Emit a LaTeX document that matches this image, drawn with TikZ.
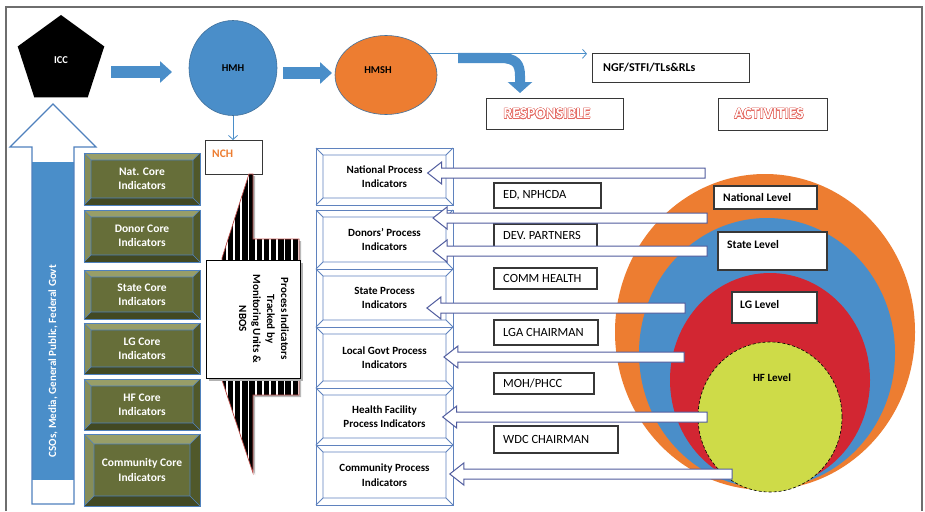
\documentclass[tikz,border=0pt]{standalone}
\usepackage{fontspec}
\setmainfont{Carlito}
\usepackage{contour}
\usetikzlibrary{shapes.geometric,arrows.meta,calc}

\definecolor{frameg}{RGB}{110,110,110}
\definecolor{offblue}{RGB}{74,142,201}
\definecolor{offblueline}{RGB}{65,113,156}
\definecolor{offorange}{RGB}{237,125,49}
\definecolor{offred}{RGB}{210,38,50}
\definecolor{offlime}{RGB}{206,219,72}
\definecolor{olivemid}{RGB}{102,110,57}
\definecolor{olivelight}{RGB}{152,158,104}
\definecolor{olivelight2}{RGB}{134,141,88}
\definecolor{olivedark}{RGB}{66,73,35}
\definecolor{olivedark2}{RGB}{80,88,42}
\definecolor{bevelblue}{RGB}{79,129,189}
\definecolor{procblue}{RGB}{95,130,190}
\definecolor{hollowblue}{RGB}{80,92,158}
\definecolor{labelgray}{RGB}{55,55,55}
\definecolor{salmon}{RGB}{228,104,96}
\definecolor{stripered}{RGB}{192,80,77}

\contourlength{0.45pt}

% olive bevelled indicator box: name, x1, y1, x2, y2, inset, text
\newcommand\coreboxat[7]{%
  \fill[olivelight] (#2,#3) -- (#4,#3) -- (#4-#6,#3+#6) -- (#2+#6,#3+#6) -- cycle;
  \fill[olivelight2] (#2,#3) -- (#2+#6,#3+#6) -- (#2+#6,#5-#6) -- (#2,#5) -- cycle;
  \fill[olivedark2] (#4,#3) -- (#4,#5) -- (#4-#6,#5-#6) -- (#4-#6,#3+#6) -- cycle;
  \fill[olivedark] (#2,#5) -- (#4,#5) -- (#4-#6,#5-#6) -- (#2+#6,#5-#6) -- cycle;
  \fill[olivemid] (#2+#6,#3+#6) rectangle (#4-#6,#5-#6);
  \draw[bevelblue, line width=0.9pt] (#2,#3) rectangle (#4,#5);
  \draw[bevelblue, line width=0.6pt] (#2+#6,#3+#6) rectangle (#4-#6,#5-#6)
    (#2,#3) -- (#2+#6,#3+#6) (#4,#3) -- (#4-#6,#3+#6)
    (#2,#5) -- (#2+#6,#5-#6) (#4,#5) -- (#4-#6,#5-#6);
  \node[coretext] (#1) at ({(#2+#4)/2},{(#3+#5)/2}) {#7};
}

% white bevelled process box: name, x1, y1, x2, y2, text
\newcommand\procboxat[6]{%
  \fill[white] (#2,#3) rectangle (#4,#5);
  \draw[procline] (#2,#3) rectangle (#4,#5);
  \draw[procline] (#2+7,#3+7) rectangle (#4-7,#5-7)
    (#2,#3) -- (#2+7,#3+7) (#4,#3) -- (#4-7,#3+7)
    (#2,#5) -- (#2+7,#5-7) (#4,#5) -- (#4-7,#5-7);
  \node[proctext] (#1) at ({(#2+#4)/2},{(#3+#5)/2}) {#6};
}

% framed label: name, x1, y1, x2, y2, text
\newcommand\lblboxat[6]{%
  \path[lblframe] (#2,#3) rectangle (#4,#5);
  \node[lbltext] (#1) at (#2+9,{(#3+#5)/2}) {#6};
}

\begin{document}
\begin{tikzpicture}[x=1pt,y=-1pt,
  font=\fontsize{11.5}{14}\selectfont\bfseries,
  blockarrow/.style={line width=12pt, draw=offblue, -{Triangle[length=12pt,width=21pt]}},
  thinarrow/.style={draw=offblue, line width=0.8pt, -{Straight Barb[length=4pt,width=9pt]}},
  coretext/.style={text=white, align=center, inner sep=0pt, font=\fontsize{11.5}{14}\selectfont\bfseries},
  proctext/.style={align=center, inner sep=0pt, font=\fontsize{11}{14.5}\selectfont\bfseries},
  procline/.style={draw=procblue, line width=0.9pt},
  lblframe/.style={draw=labelgray, line width=1.1pt, fill=white},
  lbltext/.style={anchor=west, inner sep=0pt, font=\fontsize{12.5}{14}\selectfont},
  lvltext/.style={anchor=west, inner sep=0pt, font=\fontsize{11.5}{14}\selectfont\bfseries},
  bubble/.style={ellipse, inner sep=0pt, draw=offblueline, line width=0.6pt},
  level/.style={ellipse, inner sep=0pt},
  hollowarrow/.style={draw=hollowblue, fill=white, line width=1pt,
    to path={let \p1=(\tikztostart), \p2=(\tikztotarget) in
      (\x1,\y1+5pt) -- (\x2+14pt,\y1+5pt) -- (\x2+14pt,\y1+11pt) -- (\x2,\y1)
      -- (\x2+14pt,\y1-11pt) -- (\x2+14pt,\y1-5pt) -- (\x1,\y1-5pt) -- cycle}},
]
\useasboundingbox (0,0) rectangle (925,511);
\fill[white] (0,0) rectangle (925,511);

% outer frame
\draw[frameg, line width=1.2pt] (6,511) -- (6,7) -- (922,7) -- (922,511);

% top row: ICC, HMH, HMSH
\node[regular polygon, regular polygon sides=5, fill=black, minimum size=91pt, inner sep=0pt,
      text=white, font=\fontsize{10.5}{12}\selectfont\bfseries] (icc) at (61,60.5) {ICC};
\node[bubble, fill=offblue, minimum width=88pt, minimum height=95pt,
      font=\fontsize{10.5}{12}\selectfont\bfseries] (hmh) at (233,68) {HMH};
\node[bubble, fill=offorange, minimum width=102pt, minimum height=79pt] (hmsh) at (386,75) {};
\node[font=\fontsize{10.5}{12}\selectfont\bfseries, inner sep=0pt] (hmshtext) at (378,70) {HMSH};

\coordinate (a1s) at (111,72);
\coordinate (a1e) at (172,72);
\coordinate (a2s) at (283,73);
\coordinate (a2e) at (332,73);
\draw[blockarrow] (a1s) -- (a1e);
\draw[blockarrow] (a2s) -- (a2e);

% NCH
\node[draw=labelgray, line width=1pt, fill=white, minimum width=57pt, minimum height=34pt,
      anchor=north west, inner sep=0pt] (nch) at (205,140) {};
\node[anchor=west, inner sep=0pt, text=offorange] (nchtext) at (212,153.5) {NCH};
\draw[thinarrow] (hmh.south) -- (hmh.south |- nch.north);

% NGF and headings
\node[lblframe, minimum width=157pt, minimum height=29pt, anchor=north west, inner sep=0pt] (ngf) at (592,53) {};
\node[lvltext, font=\fontsize{12}{14}\selectfont\bfseries] (ngftext) at (603,67.5) {NGF/STFI/TLs\&RLs};
\draw[thinarrow, shorten >=5pt] (hmsh.26) -- (hmsh.26 -| ngf.west);

\node[lblframe, minimum width=137pt, minimum height=31pt, anchor=north west, inner sep=0pt] (resp) at (486,98) {};
\node[text=white, inner sep=0pt, font=\fontsize{15.5}{17}\selectfont\bfseries] (resptext) at (547,114) {\contour{salmon}{RESPONSIBLE}};
\node[lblframe, minimum width=109pt, minimum height=32pt, anchor=north west, inner sep=0pt] (act) at (718,98) {};
\node[text=white, inner sep=0pt, font=\fontsize{15.5}{17}\selectfont\bfseries] (acttext) at (769,114) {\contour{salmon}{ACTIVITIES}};

% bent arrow towards RESPONSIBLE
\coordinate (bendstart) at (458,58);
\coordinate (bendtip) at ($(resp.north west)+(34,-5)$);
\draw[line width=10pt, draw=offblue, -{Triangle[length=11pt,width=24pt]}]
  (bendstart) -- (500,58) .. controls (516,58) and (520,64) .. (520,76) -- (bendtip);

% stakeholder arrow on the left
\fill[offblue] (32,162) rectangle (74,480);
\draw[bevelblue, line width=1.2pt] (53,104) -- (96,147) -- (74,147) -- (74,504) -- (32,504)
  -- (32,147) -- (10,147) -- cycle;
\node[rotate=90, text=white, inner sep=0pt, font=\fontsize{11}{13}\selectfont\bfseries] (cso) at (53,361)
  {CSOs, Media, General Public, Federal Govt};

% core indicators
\coreboxat{cnat}{84}{153}{200}{205}{7}{Nat. Core\\Indicators}
\coreboxat{cdonor}{84}{210}{200}{262}{7}{Donor Core\\Indicators}
\coreboxat{cstate}{84}{270}{200}{319}{7}{State Core\\Indicators}
\coreboxat{clg}{84}{323}{200}{374}{7}{LG Core\\Indicators}
\coreboxat{chf}{84}{379}{200}{430}{7}{HF Core\\Indicators}
\coreboxat{ccom}{84}{434}{200}{506}{10}{Community Core\\Indicators}

% striped double pointer below NCH
\fill[gray!55] (251,176) -- (255,176) -- (255,241) -- (301,241) -- (301,397) -- (255,397)
  -- (255,475) -- (224,382) -- (224,260) -- cycle;
\begin{scope}
  \clip (249,174) -- (253,174) -- (253,239) -- (299,239) -- (299,395) -- (253,395)
    -- (253,473) -- (222,380) -- (222,258) -- cycle;
  \fill[black] (218,170) rectangle (303,478);
  \foreach \k in {0,...,11} \fill[white] (226+7.2*\k,170) rectangle (227.8+7.2*\k,478);
\end{scope}
\draw[stripered, line width=0.7pt] (249,174) -- (253,174) -- (253,239) -- (299,239) -- (299,395)
  -- (253,395) -- (253,473) -- (222,380) -- (222,258) -- cycle;

\fill[gray!60] (208.5,262.5) rectangle (302.5,380.5);
\node[draw=black, line width=1pt, fill=white, minimum width=94pt, minimum height=118pt,
      anchor=north west, inner sep=0pt] (trackbox) at (206,260) {};
\node[rotate=-90, align=center, inner sep=0pt, font=\fontsize{11}{14}\selectfont\bfseries] (tracktext) at (264,319)
  {Process Indicators\\Tracked by\\Monitoring Units \&\\NBOS};

% process indicators
\procboxat{pnat}{316}{148}{453}{205}{National Process\\Indicators}
\procboxat{pdonor}{316}{210}{453}{269}{Donors’ Process\\Indicators}
\procboxat{pstate}{316}{269}{453}{327}{State Process\\Indicators}
\procboxat{plg}{316}{327}{453}{388}{Local Govt Process\\Indicators}
\procboxat{phf}{316}{388}{453}{445}{Health Facility\\Process Indicators}
\procboxat{pcom}{316}{445}{453}{505}{Community Process\\Indicators}

% nested levels
\node[level, fill=offorange, minimum width=300pt, minimum height=316pt] (lvnat) at (765,332) {};
\node[level, fill=offblue, minimum width=256pt, minimum height=270pt] (lvstate) at (767,353) {};
\node[level, fill=offred, minimum width=200pt, minimum height=214pt] (lvlg) at (770,380) {};
\node[level, fill=offlime, draw=black, densely dashed, line width=0.6pt,
      minimum width=144pt, minimum height=150pt] (lvhf) at (770,417) {};
\node[inner sep=0pt, font=\fontsize{11}{13}\selectfont\bfseries] (hftext) at (772,378) {HF Level};

\path[lblframe] (714,186) rectangle (817,209);
\node[lvltext] (natlvl) at (723,197.5) {National Level};
\path[lblframe] (718,232) rectangle (827,270);
\node[lvltext] (statelvl) at (727,245) {State Level};
\path[lblframe] (732,292) rectangle (817,323);
\node[lvltext] (lglvl) at (740,305) {LG Level};

% responsible officers
\lblboxat{ed}{494}{183}{601}{208}{ED, NPHCDA}
\lblboxat{dev}{494}{224}{597}{247}{DEV. PARTNERS}
\lblboxat{comm}{494}{268}{597}{289}{COMM HEALTH}
\lblboxat{lga}{494}{320}{598}{345}{LGA CHAIRMAN}
\lblboxat{moh}{494}{373}{594}{394}{MOH/PHCC}
\lblboxat{wdc}{494}{426}{618}{453}{WDC CHAIRMAN}

% reporting arrows from the levels to the process indicators
\coordinate (t1) at (705,173);
\coordinate (t2) at (707,218);
\coordinate (t3) at (707,251);
\coordinate (t4) at (685,308);
\coordinate (t5) at (684,357);
\coordinate (t6) at (707,417);
\coordinate (t7) at (732,474);
\draw[hollowarrow] (t1) to ([xshift=5pt]pnat.east |- t1);
\draw[hollowarrow] (t2) to ([xshift=12pt]pdonor.east |- t2);
\draw[hollowarrow] (t3) to ([xshift=12pt]pdonor.east |- t3);
\draw[hollowarrow] (t4) to ([xshift=12pt]pstate.east |- t4);
\draw[hollowarrow] (t5) to ([xshift=17pt]plg.east |- t5);
\draw[hollowarrow] (t6) to ([xshift=17pt]phf.east |- t6);
\draw[hollowarrow] (t7) to ([xshift=20pt]pcom.east |- t7);
\end{tikzpicture}
\end{document}
